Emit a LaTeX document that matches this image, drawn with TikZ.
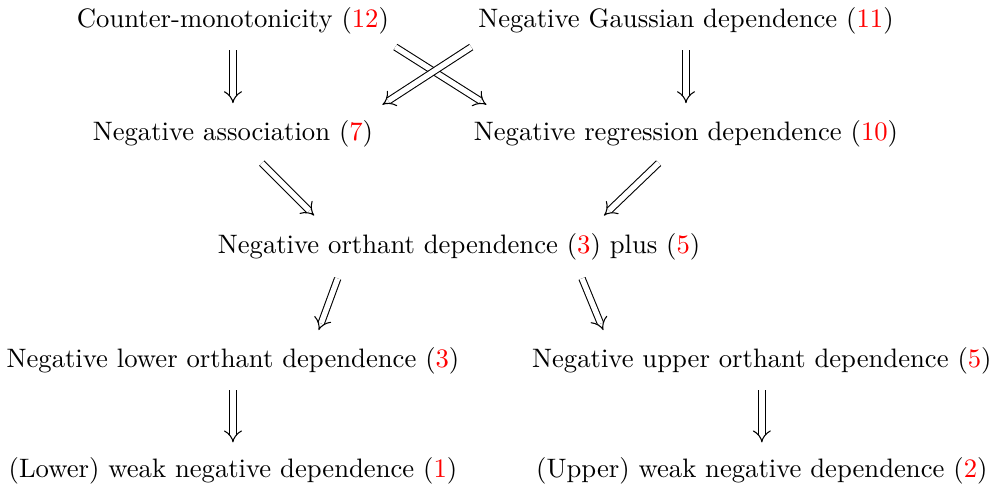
\documentclass[tikz,border=0pt]{standalone}
\usepackage{amsmath}
\usepackage{xcolor}
\usepackage{tikz}
\usetikzlibrary{arrows.meta}

\newcommand{\refnum}[1]{(\textcolor{red}{#1})}

\begin{document}
\begin{tikzpicture}[
        prop/.style={inner sep=3pt},
        imp/.style={double, double distance=2pt, -{Implies}}
    ]
    \useasboundingbox (0,0) rectangle (13.06,6.42);

    % Top row
    \node[prop] (cm) at (3.07, 6.15) {Counter-monotonicity \refnum{12}};
    \node[prop] (gauss) at (9.04, 6.15) {Negative Gaussian dependence \refnum{11}};

    % Second row
    \node[prop] (assoc) at (3.07, 4.66) {Negative association \refnum{7}};
    \node[prop] (regr) at (9.04, 4.66) {Negative regression dependence \refnum{10}};

    % Middle
    \node[prop] (nod) at (6.05, 3.17) {Negative orthant dependence \refnum{3} plus \refnum{5}};

    % Lower / upper
    \node[prop] (lower) at (3.07, 1.67) {Negative lower orthant dependence \refnum{3}};
    \node[prop] (upper) at (10.04, 1.67) {Negative upper orthant dependence \refnum{5}};

    % Weak
    \node[prop] (weakl) at (3.07, 0.21) {(Lower) weak negative dependence \refnum{1}};
    \node[prop] (weaku) at (10.04, 0.21) {(Upper) weak negative dependence \refnum{2}};

    % Arrows
    \draw[imp] ([yshift=-0.39cm]cm.center) -- ([yshift=0.40cm]assoc.center);
    \draw[imp] ([yshift=-0.39cm]gauss.center) -- ([yshift=0.40cm]regr.center);
    \draw[imp] ([shift={(2.14,-0.35)}]cm.center) -- ([shift={(-2.63,0.38)}]regr.center);
    \draw[imp] ([shift={(-2.83,-0.35)}]gauss.center) -- ([shift={(1.97,0.38)}]assoc.center);
    \draw[imp] ([shift={(0.38,-0.39)}]assoc.center) -- ([shift={(-1.91,0.41)}]nod.center);
    \draw[imp] ([shift={(-0.36,-0.39)}]regr.center) -- ([shift={(1.91,0.41)}]nod.center);
    \draw[imp] ([shift={(-1.60,-0.42)}]nod.center) -- ([shift={(1.13,0.40)}]lower.center);
    \draw[imp] ([shift={(1.62,-0.42)}]nod.center) -- ([shift={(-2.09,0.40)}]upper.center);
    \draw[imp] ([yshift=-0.39cm]lower.center) -- ([yshift=0.38cm]weakl.center);
    \draw[imp] ([yshift=-0.39cm]upper.center) -- ([yshift=0.38cm]weaku.center);

\end{tikzpicture}
\end{document}
